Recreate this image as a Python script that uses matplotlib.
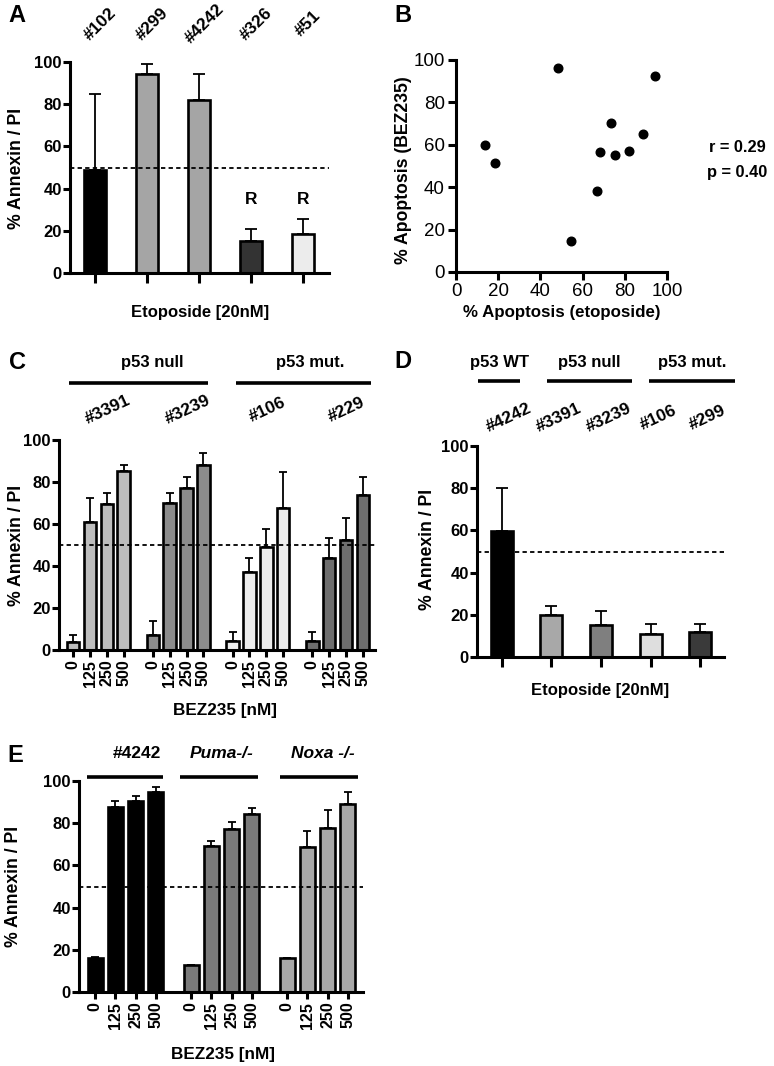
import matplotlib
matplotlib.use("Agg")
import matplotlib.pyplot as plt
from matplotlib.lines import Line2D
import numpy as np

plt.rcParams['font.family'] = ['Liberation Sans', 'DejaVu Sans']
plt.rcParams['font.weight'] = 'bold'

# ---------------- data ----------------
A_labels = ['#102', '#299', '#4242', '#326', '#51']
A_vals = [48.7, 94.2, 82.1, 15.2, 18.6]
A_tops = [85.0, 99.2, 94.2, 21.0, 25.8]
A_colors = ['#000000', '#a5a5a5', '#a5a5a5', '#333333', '#ececec']
A_marks = ['', '', '', 'R', 'R']

B_x = [13.9, 18.6, 48.3, 54.7, 66.8, 68.1, 73.6, 75.2, 81.8, 88.6, 94.2]
B_y = [59.8, 51.5, 96.1, 14.6, 38.1, 56.7, 70.1, 55.4, 57.0, 64.9, 92.4]
B_stats = ['r = 0.29', 'p = 0.40']

C_lines = ['#3391', '#3239', '#106', '#229']
C_doses = ['0', '125', '250', '500']
C_vals = [[4.0, 60.8, 69.4, 85.1],
          [7.1, 69.8, 77.0, 88.1],
          [4.3, 37.3, 49.2, 67.5],
          [4.3, 43.7, 52.4, 73.8]]
C_tops = [[7.1, 72.2, 74.9, 88.1],
          [13.8, 74.9, 82.5, 93.7],
          [8.7, 44.0, 57.6, 84.9],
          [8.4, 53.5, 63.0, 82.5]]
C_colors = ['#bdbdbd', '#8c8c8c', '#ededed', '#6e6e6e']
C_headers = ['p53 null', 'p53 mut.']

D_labels = ['#4242', '#3391', '#3239', '#106', '#299']
D_vals = [59.7, 19.8, 15.0, 11.1, 11.9]
D_tops = [79.9, 24.2, 21.7, 15.8, 15.5]
D_colors = ['#000000', '#a8a8a8', '#7f7f7f', '#dedede', '#3a3a3a']
D_headers = ['p53 WT', 'p53 null', 'p53 mut.']

E_groups = ['#4242', 'Puma-/-', 'Noxa -/-']
E_doses = ['0', '125', '250', '500']
E_vals = [[16.3, 87.8, 90.7, 94.8],
          [12.7, 69.3, 77.2, 84.3],
          [16.1, 68.8, 77.8, 89.1]]
E_tops = [[16.5, 90.7, 93.0, 97.3],
          [12.7, 71.4, 80.7, 87.2],
          [16.1, 76.3, 86.2, 94.6]]
E_colors = ['#000000', '#7a7a7a', '#a8a8a8']

YLABEL = '% Annexin / PI'

# ---------------- layout helpers ----------------
W, H = 774, 1066
fig = plt.figure(figsize=(W / 100, H / 100), dpi=100)


def fx(px):
    return px / W


def fy(py):
    return 1 - py / H


def axes_px(l, t, r, b):
    return fig.add_axes([fx(l), fy(b), (r - l) / W, (b - t) / H])


def ftext(px, py, s, **kw):
    kw.setdefault('ha', 'center')
    kw.setdefault('va', 'center')
    kw.setdefault('fontweight', 'bold')
    fig.text(fx(px), fy(py), s, **kw)


def fline(x0, x1, py, lw=2.6):
    fig.add_artist(Line2D([fx(x0), fx(x1)], [fy(py), fy(py)],
                          transform=fig.transFigure, color='black', lw=lw,
                          solid_capstyle='butt'))


SPW = 2.2
TICKFS = 12
LABFS = 12.7
HDRFS = 12


def style_axis(ax, xticklen=6):
    for s in ['top', 'right']:
        ax.spines[s].set_visible(False)
    for s in ['left', 'bottom']:
        ax.spines[s].set_linewidth(SPW)
    ax.set_ylim(0, 100)
    ax.set_yticks([0, 20, 40, 60, 80, 100])
    ax.tick_params(axis='y', direction='out', length=5, width=SPW,
                   labelsize=TICKFS, pad=1)
    ax.tick_params(axis='x', direction='out', length=xticklen, width=SPW,
                   labelsize=11.5, pad=2)
    for lab in ax.get_yticklabels():
        lab.set_fontweight('bold')


def dashed(ax):
    ax.axhline(50, color='black', lw=1.3, ls=(0, (2.4, 1.8)), zorder=4)


def bars(ax, x, vals, tops, colors, width, capsize):
    x = np.asarray(x, dtype=float)
    vals = np.asarray(vals, dtype=float)
    tops = np.asarray(tops, dtype=float)
    ax.bar(x, vals, width=width, color=colors, edgecolor='black',
           linewidth=1.9, zorder=2)
    ax.errorbar(x, vals, yerr=[np.zeros_like(vals), tops - vals], fmt='none',
                ecolor='black', elinewidth=1.3, capsize=capsize,
                capthick=1.3, zorder=1)


# ---------------- Panel A ----------------
axA = axes_px(70, 62, 329, 273)
xa = np.arange(len(A_vals))
bars(axA, xa, A_vals, A_tops, A_colors, 0.44, 4.5)
dashed(axA)
axA.set_xlim(-0.48, 4.5)
axA.set_xticks(xa)
axA.set_xticklabels([])
style_axis(axA, xticklen=7)
for i, m in enumerate(A_marks):
    if m:
        axA.text(xa[i], 34.6, m, ha='center', va='center', fontsize=12.5,
                 fontweight='bold')
for i, lab in enumerate(A_labels):
    axA.text(xa[i] + 0.1, 1.18, lab, transform=axA.get_xaxis_transform(),
             rotation=45, ha='center', va='center', rotation_mode='anchor',
             fontsize=12.5, fontweight='bold')
ftext(17, 15, 'A', fontsize=17)
ftext(17, 168, YLABEL, rotation=90, fontsize=LABFS)
ftext(200, 313, 'Etoposide [20nM]', fontsize=12)

# ---------------- Panel B ----------------
axB = axes_px(456, 60, 667, 272)
axB.plot(B_x, B_y, 'o', color='black', markersize=6.2, clip_on=False)
axB.set_xlim(0, 100)
axB.set_ylim(0, 100)
for s in ['top', 'right']:
    axB.spines[s].set_visible(False)
for s in ['left', 'bottom']:
    axB.spines[s].set_linewidth(SPW)
axB.set_xticks([0, 20, 40, 60, 80, 100])
axB.set_yticks([0, 20, 40, 60, 80, 100])
axB.tick_params(direction='out', length=6, width=SPW, labelsize=13.5, pad=2)
for lab in axB.get_xticklabels() + axB.get_yticklabels():
    lab.set_fontweight('normal')
ftext(403, 15, 'B', fontsize=17)
ftext(404, 170, '% Apoptosis (BEZ235)', rotation=90, fontsize=LABFS)
ftext(562, 313, '% Apoptosis (etoposide)', fontsize=12.2)
ftext(737, 148, B_stats[0], fontsize=11.8)
ftext(737, 173, B_stats[1], fontsize=11.8)

# ---------------- Panel C ----------------
axC = axes_px(59, 440, 375, 650)
gapC = 4.73
xc_all, vc, tc, cc, lc = [], [], [], [], []
for g in range(len(C_lines)):
    for i in range(len(C_doses)):
        xc_all.append(g * gapC + i)
        vc.append(C_vals[g][i])
        tc.append(C_tops[g][i])
        cc.append(C_colors[g])
        lc.append(C_doses[i])
bars(axC, xc_all, vc, tc, cc, 0.75, 3)
dashed(axC)
axC.set_xlim(-0.84, 3 * gapC + 3 + 0.72)
axC.set_xticks(xc_all)
axC.set_xticklabels(lc, rotation=90, fontweight='bold')
style_axis(axC, xticklen=5)
for g, lab in enumerate(C_lines):
    axC.text(g * gapC + 1.5 + 0.55, 1.143, lab,
             transform=axC.get_xaxis_transform(), rotation=25, ha='center',
             va='center', rotation_mode='anchor', fontsize=12.5,
             fontweight='bold')
ftext(17, 363, 'C', fontsize=17)
ftext(152, 363, C_headers[0], fontsize=HDRFS)
fline(69, 208, 383)
ftext(310, 363, C_headers[1], fontsize=HDRFS)
fline(236, 371, 383)
ftext(17, 545, YLABEL, rotation=90, fontsize=LABFS)
ftext(225, 710, 'BEZ235 [nM]', fontsize=12.3)

# ---------------- Panel D ----------------
axD = axes_px(477, 446, 724, 657)
xd = np.arange(len(D_vals))
bars(axD, xd, D_vals, D_tops, D_colors, 0.44, 4)
dashed(axD)
axD.set_xlim(-0.5, 4.48)
axD.set_xticks(xd)
axD.set_xticklabels([])
style_axis(axD, xticklen=7)
for i, lab in enumerate(D_labels):
    axD.text(xd[i] + 0.15, 1.133, lab, transform=axD.get_xaxis_transform(),
             rotation=25, ha='center', va='center', rotation_mode='anchor',
             fontsize=12.5, fontweight='bold')
ftext(403, 362, 'D', fontsize=17)
ftext(500, 362, D_headers[0], fontsize=HDRFS)
fline(478, 520, 381)
ftext(589, 362, D_headers[1], fontsize=HDRFS)
fline(547, 632, 381)
ftext(692, 362, D_headers[2], fontsize=HDRFS)
fline(649, 735, 381)
ftext(427, 549, YLABEL, rotation=90, fontsize=LABFS)
ftext(600, 690, 'Etoposide [20nM]', fontsize=12)

# ---------------- Panel E ----------------
axE = axes_px(79, 781, 363, 992)
gapE = 4.73
xe_all, ve, te, ce, le = [], [], [], [], []
for g in range(len(E_groups)):
    for i in range(len(E_doses)):
        xe_all.append(g * gapE + i)
        ve.append(E_vals[g][i])
        te.append(E_tops[g][i])
        ce.append(E_colors[g])
        le.append(E_doses[i])
bars(axE, xe_all, ve, te, ce, 0.74, 3.2)
dashed(axE)
axE.set_xlim(-0.79, 2 * gapE + 3 + 0.74)
axE.set_xticks(xe_all)
axE.set_xticklabels(le, rotation=90, fontweight='bold')
style_axis(axE, xticklen=5)
ftext(15, 755, 'E', fontsize=17)
ftext(137, 754, E_groups[0], fontsize=12.5)
fline(87, 163, 777)
ftext(222, 754, E_groups[1], fontsize=12.5, fontstyle='italic')
fline(180, 258, 777)
ftext(323, 754, E_groups[2], fontsize=12.5, fontstyle='italic')
fline(280, 358, 777)
ftext(14, 886, YLABEL, rotation=90, fontsize=LABFS)
ftext(223, 1055, 'BEZ235 [nM]', fontsize=12.3)

fig.savefig('out.png', dpi=100)
